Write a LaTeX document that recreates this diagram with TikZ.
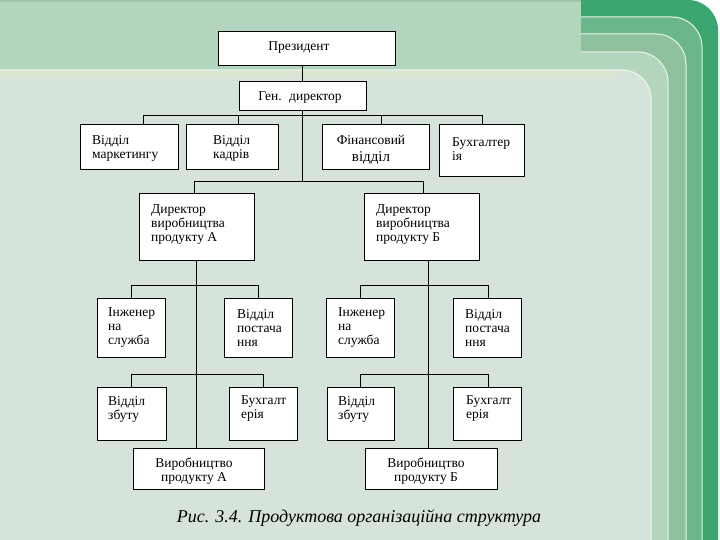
\documentclass[tikz,border=0pt]{standalone}
\usepackage{fontspec}
\setmainfont{Liberation Serif}
\definecolor{topband}{HTML}{B3D5BE}
\definecolor{gA}{HTML}{3BA56F}
\definecolor{gB}{HTML}{6BB68A}
\definecolor{gC}{HTML}{8FC19F}
\definecolor{gD}{HTML}{B4D5BE}
\definecolor{mainbg}{HTML}{D6E3DA}
\definecolor{stripe}{HTML}{D9E4D3}
\definecolor{hilite}{HTML}{E8F5E8}
\tikzset{
  box/.style={draw=black, fill=white, line width=1pt, inner sep=0pt, outer sep=0pt, anchor=north west},
  txt/.style={inner sep=0pt, align=left, font=\fontsize{13.5}{14}\selectfont},
  ctxt/.style={inner sep=0pt, align=center, font=\fontsize{13.5}{14}\selectfont},
  conn/.style={draw=black, line width=0.9pt},
  hl/.style={draw=hilite, line width=1pt}
}
\begin{document}
\begin{tikzpicture}[x=1pt,y=-1pt]
\useasboundingbox (0,0) rectangle (720,540);
% background
\fill[white] (0,0) rectangle (720,540);
\fill[topband] (0,0) rectangle (582,540);
\fill[black!10!topband] (0,0) rectangle (582,2);
% band A
\fill[gA] (581,540) -- (581,0) -- (688,0) arc (-90:0:30) -- (718,540) -- cycle;
% band B
\fill[gB] (581,540) -- (581,17) -- (672,17) arc (-90:0:30) -- (702,540) -- cycle;
\draw[hl] (581,17) -- (672,17) arc (-90:0:30) -- (702,540);
% band C
\fill[gC] (581,540) -- (581,34) -- (656,34) arc (-90:0:30) -- (686,540) -- cycle;
\draw[hl] (581,34) -- (656,34) arc (-90:0:30) -- (686,540);
% band D
\fill[gD] (581,540) -- (581,52) -- (638,52) arc (-90:0:30) -- (668,540) -- cycle;
\draw[hl] (581,52) -- (638,52) arc (-90:0:30) -- (668,540);
% main area
\fill[mainbg] (-2,545) -- (-2,70) -- (622,70) arc (-90:0:29) -- (651,545) -- cycle;
\fill[stripe] (-2,71) rectangle (620,78);
\draw[hl, line width=1.2pt] (-2,70) -- (622,70) arc (-90:0:29) -- (651,545);

% boxes
\node[box, minimum width=177pt, minimum height=34pt] (pres) at (218,32) {};
\node[box, minimum width=127pt, minimum height=29pt] (gen) at (239,82) {};
\node[box, minimum width=98pt, minimum height=45pt] (mark) at (80,125) {};
\node[box, minimum width=92pt, minimum height=45pt] (kadr) at (186,125) {};
\node[box, minimum width=107pt, minimum height=45pt] (fin) at (322,125) {};
\node[box, minimum width=85pt, minimum height=52pt] (buh) at (439,125) {};
\node[box, minimum width=115pt, minimum height=66pt] (dirA) at (139,194) {};
\node[box, minimum width=115pt, minimum height=66pt] (dirB) at (364,194) {};
\node[box, minimum width=68pt, minimum height=59pt] (ingA) at (97,298) {};
\node[box, minimum width=68pt, minimum height=59pt] (postA) at (224,298) {};
\node[box, minimum width=68pt, minimum height=59pt] (ingB) at (326,298) {};
\node[box, minimum width=68pt, minimum height=59pt] (postB) at (453,298) {};
\node[box, minimum width=69pt, minimum height=53pt] (zbA) at (97,387) {};
\node[box, minimum width=68pt, minimum height=53pt] (buhA) at (229,387) {};
\node[box, minimum width=67pt, minimum height=53pt] (zbB) at (327,387) {};
\node[box, minimum width=68pt, minimum height=53pt] (buhB) at (453,387) {};
\node[box, minimum width=131pt, minimum height=41pt] (prodA) at (133,448) {};
\node[box, minimum width=132pt, minimum height=41pt] (prodB) at (365,448) {};

% texts
\node[ctxt] (presT) at (299,48) {Президент};
\node[ctxt] (genT) at (300,98) {Ген.\hspace{0.55em}директор};
\node[txt, anchor=west] (markT) at (92,148) {Відділ\\маркетингу};
\node[txt, anchor=west] (kadrT) at (213,148) {Відділ\\кадрів};
\node[ctxt] (finT) at (371,150) {Фінансовий\\[3pt]{\fontsize{15}{15}\selectfont відділ}};
\node[txt, anchor=west] (buhT) at (452,149) {Бухгалтер\\ія};
\node[txt, anchor=west] (dirAT) at (151,225) {Директор\\виробництва\\продукту А};
\node[txt, anchor=west] (dirBT) at (376,225) {Директор\\виробництва\\продукту Б};
\node[txt, anchor=west] (ingAT) at (108,328) {Інженер\\на\\служба};
\node[txt, anchor=west] (postAT) at (237,328) {Відділ\\постача\\ння};
\node[txt, anchor=west] (ingBT) at (338,328) {Інженер\\на\\служба};
\node[txt, anchor=west] (postBT) at (465,328) {Відділ\\постача\\ння};
\node[txt, anchor=west] (zbAT) at (108,409) {Відділ\\збуту};
\node[txt, anchor=west] (buhAT) at (241,409) {Бухгалт\\ерія};
\node[txt, anchor=west] (zbBT) at (338,409) {Відділ\\збуту};
\node[txt, anchor=west] (buhBT) at (466,409) {Бухгалт\\ерія};
\node[ctxt] (prodAT) at (194,471) {Виробництво\\продукту А};
\node[ctxt] (prodBT) at (426,471) {Виробництво\\продукту Б};
\node[inner sep=0pt, font=\fontsize{18}{20}\selectfont\itshape] (cap) at (359,518) {Рис. 3.4. Продуктова організаційна структура};

% connectors
\coordinate (mid) at (302,115);
\coordinate (t1) at (143,115);
\coordinate (t2) at (238,115);
\coordinate (t3) at (381,115);
\coordinate (t4) at (482,115);
\coordinate (b2) at (302,181);
\coordinate (b2L) at (194,181);
\coordinate (b2R) at (423,181);
\draw[conn] (mid |- pres.south) -- (mid |- gen.north);
\draw[conn] (mid |- gen.south) -- (b2);
\draw[conn] (t1) -- (t4);
\draw[conn] (t1) -- (t1 |- mark.north);
\draw[conn] (t2) -- (t2 |- kadr.north);
\draw[conn] (t3) -- (t3 |- fin.north);
\draw[conn] (t4) -- (t4 |- buh.north);
\draw[conn] (b2L) -- (b2R);
\draw[conn] (b2L) -- (b2L |- dirA.north);
\draw[conn] (b2R) -- (b2R |- dirB.north);
% group A
\coordinate (vA) at (196,260);
\coordinate (a1L) at (131,285);
\coordinate (a1R) at (258,285);
\coordinate (a2L) at (131,374);
\coordinate (a2R) at (263,374);
\draw[conn] (vA |- dirA.south) -- (vA |- prodA.north);
\draw[conn] (a1L) -- (a1R);
\draw[conn] (a1L) -- (a1L |- ingA.north);
\draw[conn] (a1R) -- (a1R |- postA.north);
\draw[conn] (a2L) -- (a2R);
\draw[conn] (a2L) -- (a2L |- zbA.north);
\draw[conn] (a2R) -- (a2R |- buhA.north);
% group B
\coordinate (vB) at (428,260);
\coordinate (c1L) at (360,285);
\coordinate (c1R) at (488,285);
\coordinate (c2L) at (360,374);
\coordinate (c2R) at (488,374);
\draw[conn] (vB |- dirB.south) -- (vB |- prodB.north);
\draw[conn] (c1L) -- (c1R);
\draw[conn] (c1L) -- (c1L |- ingB.north);
\draw[conn] (c1R) -- (c1R |- postB.north);
\draw[conn] (c2L) -- (c2R);
\draw[conn] (c2L) -- (c2L |- zbB.north);
\draw[conn] (c2R) -- (c2R |- buhB.north);
\end{tikzpicture}
\end{document}
